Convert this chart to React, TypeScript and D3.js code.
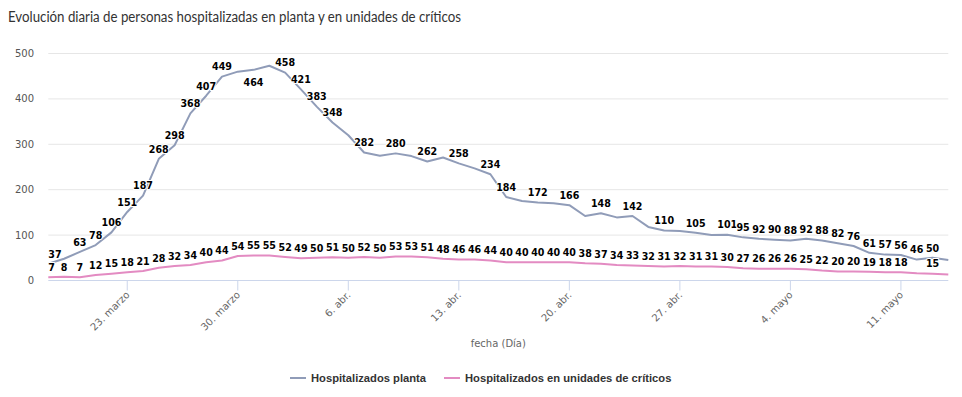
import React from 'react';
import * as d3 from 'd3';

// daily values, 18 March -> 14 May
const startDate = new Date(2020, 2, 18);
const planta = [37, 48, 63, 78, 106, 151, 187, 268, 298, 368, 407, 449, 460, 464, 473, 458, 421, 383, 348, 320,
  282, 275, 280, 274, 262, 271, 258, 247, 234, 184, 175, 172, 170, 166, 142, 148, 139, 142, 118, 110,
  109, 105, 100, 101, 95, 92, 90, 88, 92, 88, 82, 76, 61, 57, 56, 46, 50, 45];
const criticos = [7, 8, 7, 12, 15, 18, 21, 28, 32, 34, 40, 44, 54, 55, 55, 52, 49, 50, 51, 50,
  52, 50, 53, 53, 51, 48, 46, 46, 44, 40, 40, 40, 40, 40, 38, 37, 34, 33, 32, 31,
  32, 31, 31, 30, 27, 26, 26, 26, 25, 22, 20, 20, 19, 18, 18, 16, 15, 13];
// labels hidden by overlap in the original
const plantaHidden = [1, 12, 14, 19, 21, 23, 25, 27, 30, 32, 34, 36, 38, 40, 42, 57];
const criticosHidden = [55, 57];
const plantaBelow = [13];
const yTicks = [0, 100, 200, 300, 400, 500];
const monthNames = ['ene.', 'feb.', 'marzo', 'abr.', 'mayo', 'jun.'];
const seriesNames = ['Hospitalizados planta', 'Hospitalizados en unidades de críticos'];
const colors = ['#909cb8', '#e38bc2'];

const W = 962, H = 397;
const left = 48.3, right = 948.3, top = 53.5, bottom = 280.5;

const dates = planta.map((_, i) => d3.timeDay.offset(startDate, i));

const App = () => {
  const x = d3.scaleTime().domain([dates[0], dates[dates.length - 1]]).range([left, right]);
  const y = d3.scaleLinear().domain([0, 500]).range([bottom, top]);
  const line = d3.line<number>().x((d, i) => x(dates[i])).y(d => y(d));
  const xTicks = x.ticks(d3.timeMonday.every(1) as any);

  const labelFont = { fontFamily: '"DejaVu Sans Condensed", "DejaVu Sans", sans-serif', fontStretch: 'condensed', fontWeight: 'bold', fontSize: 10.6 } as any;

  const dataLabels = (vals: number[], hidden: number[], below: number[], key: string) =>
    vals.map((v, i) => {
      if (hidden.includes(i)) return null;
      const w = String(v).length * 6.6;
      let cx = x(dates[i]);
      cx = Math.max(left + w / 2, Math.min(right - w / 2, cx));
      const cy = below.includes(i) ? y(v) + 12 : y(v) - 10;
      return (
        <text key={key + i} x={cx} y={cy + 3.8} textAnchor="middle" fill="#000"
          stroke="#fff" strokeWidth={2} strokeLinejoin="round" paintOrder="stroke" style={labelFont}>{v}</text>
      );
    });

  return (
    <svg width={W} height={H} style={{ position: 'absolute', left: 0, top: 0, background: '#fff' }}>
      <text x={8} y={22} fill="#333" textLength={453} lengthAdjust="spacingAndGlyphs"
        style={{ fontFamily: 'Lato, sans-serif', fontSize: 15.5 }}>
        Evolución diaria de personas hospitalizadas en planta y en unidades de críticos
      </text>

      {/* grid + y axis labels */}
      {yTicks.map(t => (
        <g key={'y' + t}>
          {t > 0 && <line x1={left} x2={right} y1={y(t)} y2={y(t)} stroke="#e6e6e6" />}
          <text x={34} y={y(t) + 3.5} textAnchor="end" fill="#555"
            style={{ fontFamily: 'DejaVu Sans, sans-serif', fontSize: 10 }}>{t}</text>
        </g>
      ))}
      <line x1={left} x2={right} y1={bottom} y2={bottom} stroke="#ccd6eb" />

      {/* x axis */}
      {xTicks.map(t => (
        <g key={'x' + t.getTime()}>
          <line x1={x(t)} x2={x(t)} y1={bottom} y2={bottom + 10} stroke="#ccd6eb" />
          <text transform={`translate(${x(t) + 3},${bottom + 15}) rotate(-45)`} textAnchor="end" fill="#666"
            style={{ fontFamily: 'DejaVu Sans, sans-serif', fontSize: 10 }}>
            {t.getDate() + '. ' + monthNames[t.getMonth()]}
          </text>
        </g>
      ))}
      <text x={(left + right) / 2} y={347} textAnchor="middle" fill="#666"
        style={{ fontFamily: 'DejaVu Sans, sans-serif', fontSize: 10 }}>fecha (Día)</text>

      {/* lines */}
      <path d={line(planta) || ''} fill="none" stroke={colors[0]} strokeWidth={2} strokeLinejoin="round" />
      <path d={line(criticos) || ''} fill="none" stroke={colors[1]} strokeWidth={2} strokeLinejoin="round" />

      {dataLabels(planta, plantaHidden, plantaBelow, 'p')}
      {dataLabels(criticos, criticosHidden, [], 'c')}

      {/* legend */}
      {[290, 444].map((lx, k) => (
        <g key={'l' + k}>
          <line x1={lx} x2={lx + 16} y1={378} y2={378} stroke={colors[k]} strokeWidth={2} />
          <text x={lx + 21} y={382} fill="#333"
            style={{ fontFamily: '"Liberation Sans", Arial, sans-serif', fontWeight: 'bold', fontSize: 11.2 }}>
            {seriesNames[k]}
          </text>
        </g>
      ))}
    </svg>
  );
};

export default App;
